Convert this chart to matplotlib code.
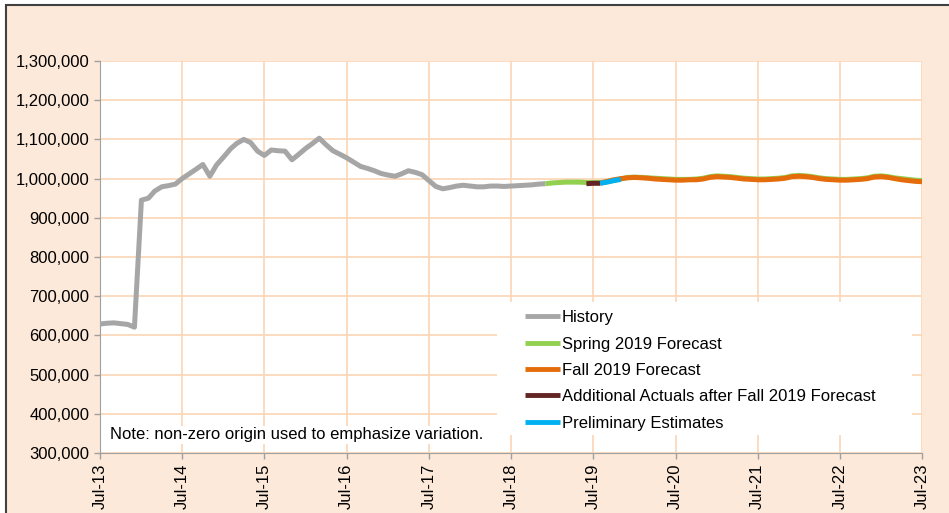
import numpy as np
import pandas as pd
import matplotlib
matplotlib.use('Agg')
import matplotlib.pyplot as plt
import matplotlib.dates as mdates
from matplotlib.patches import Rectangle
from matplotlib.ticker import FuncFormatter

plt.rcParams['font.family'] = ['Liberation Sans', 'DejaVu Sans']

# monthly values, in thousands
history = [629, 631, 632, 630, 628, 621, 945, 950, 968, 979, 982, 986,
           1000, 1012, 1024, 1036, 1006, 1035, 1055, 1076, 1090, 1100, 1092, 1070,
           1059, 1073, 1071, 1070, 1048, 1062, 1077, 1090, 1103, 1086, 1071, 1062,
           1053, 1042, 1031, 1026, 1020, 1013, 1009, 1006, 1012, 1020, 1016, 1010,
           995, 980, 974, 977, 981, 983, 981, 979, 979, 981, 981, 980,
           981, 982, 983, 984, 986, 987]
spring_2019 = [987,
               989, 990, 991, 991, 991, 990, 990, 990, 992, 995, 999, 1003,
               1004, 1003, 1002, 1001, 1000, 999, 998, 998, 998, 999, 1001, 1005,
               1007, 1006, 1005, 1003, 1001, 1000, 999, 999, 1000, 1001, 1003, 1007,
               1008, 1007, 1005, 1002, 1000, 999, 998, 998, 999, 1000, 1002, 1006,
               1007, 1005, 1002, 1000, 998, 996, 995]
fall_2019 = [988, 993, 997, 1000, 1002,
             1003, 1002, 1001, 999, 998, 997, 996, 996, 997, 997, 999, 1003,
             1005, 1004, 1003, 1001, 999, 998, 997, 997, 998, 999, 1001, 1005,
             1006, 1005, 1003, 1000, 998, 997, 996, 996, 997, 998, 1000, 1004,
             1005, 1003, 1000, 997, 995, 993, 992]
additional_actuals = [987, 988, 988]
preliminary = [988, 991, 995, 998]

series = [
    ('History', '2013-07-01', history, '#A6A6A6'),
    ('Spring 2019 Forecast', '2018-12-01', spring_2019, '#92D050'),
    ('Fall 2019 Forecast', '2019-08-01', fall_2019, '#E46C0A'),
    ('Additional Actuals after Fall 2019 Forecast', '2019-06-01', additional_actuals, '#632523'),
    ('Preliminary Estimates', '2019-08-01', preliminary, '#00B0F0'),
]

W, H = 949, 513
fig = plt.figure(figsize=(W / 100, H / 100), dpi=100, facecolor='white')
fig.patches.append(Rectangle((6 / W, -0.1), 1.2, 1.1 - 5 / H, transform=fig.transFigure,
                             facecolor='#FDE9D9', edgecolor='#404040', linewidth=1.5, zorder=-10))

ax = fig.add_axes([100 / W, 1 - 453 / H, 822 / W, 392 / H])
ax.set_facecolor('white')

for label, start, vals, color in series:
    dates = pd.date_range(start, periods=len(vals), freq='MS')
    ax.plot(dates, np.array(vals) * 1000, color=color, lw=3.6, label=label,
            solid_capstyle='butt', zorder=3)

ax.set_xlim(pd.Timestamp('2013-07-01'), pd.Timestamp('2023-07-01'))
ax.set_ylim(300000, 1300000)
ax.set_yticks(np.arange(300000, 1300001, 100000))
ax.yaxis.set_major_formatter(FuncFormatter(lambda v, p: f'{v:,.0f}'))
ax.set_xticks(pd.date_range('2013-07-01', '2023-07-01', freq='12MS'))
ax.xaxis.set_major_formatter(mdates.DateFormatter('%b-%y'))
plt.setp(ax.get_xticklabels(), rotation=90)

ax.grid(True, color='#FBD5B5', lw=1.2, zorder=0)
ax.set_axisbelow(True)
for s in ['top', 'right']:
    ax.spines[s].set_visible(False)
for s in ['left', 'bottom']:
    ax.spines[s].set_color('#A0A0A0')
ax.tick_params(labelsize=12, colors='#A0A0A0', labelcolor='black', length=4, width=1)

# white box behind the legend
ax.add_patch(Rectangle((0.483, 0.046), 0.505, 0.339, transform=ax.transAxes,
                       facecolor='white', edgecolor='none', zorder=2))
leg = ax.legend(loc='upper left', bbox_to_anchor=(0.517, 0.364), fontsize=12,
                frameon=False, handlelength=2.1, handletextpad=0.1, labelspacing=0.68,
                borderpad=0, borderaxespad=0)
for line in leg.get_lines():
    line.set_linewidth(3.5)

ax.text(0.012, 0.027, 'Note: non-zero origin used to emphasize variation.', transform=ax.transAxes,
        fontsize=12, va='bottom', ha='left', zorder=4,
        bbox=dict(facecolor='white', edgecolor='none', pad=1))

fig.savefig('out.png', dpi=100, facecolor=fig.get_facecolor())
